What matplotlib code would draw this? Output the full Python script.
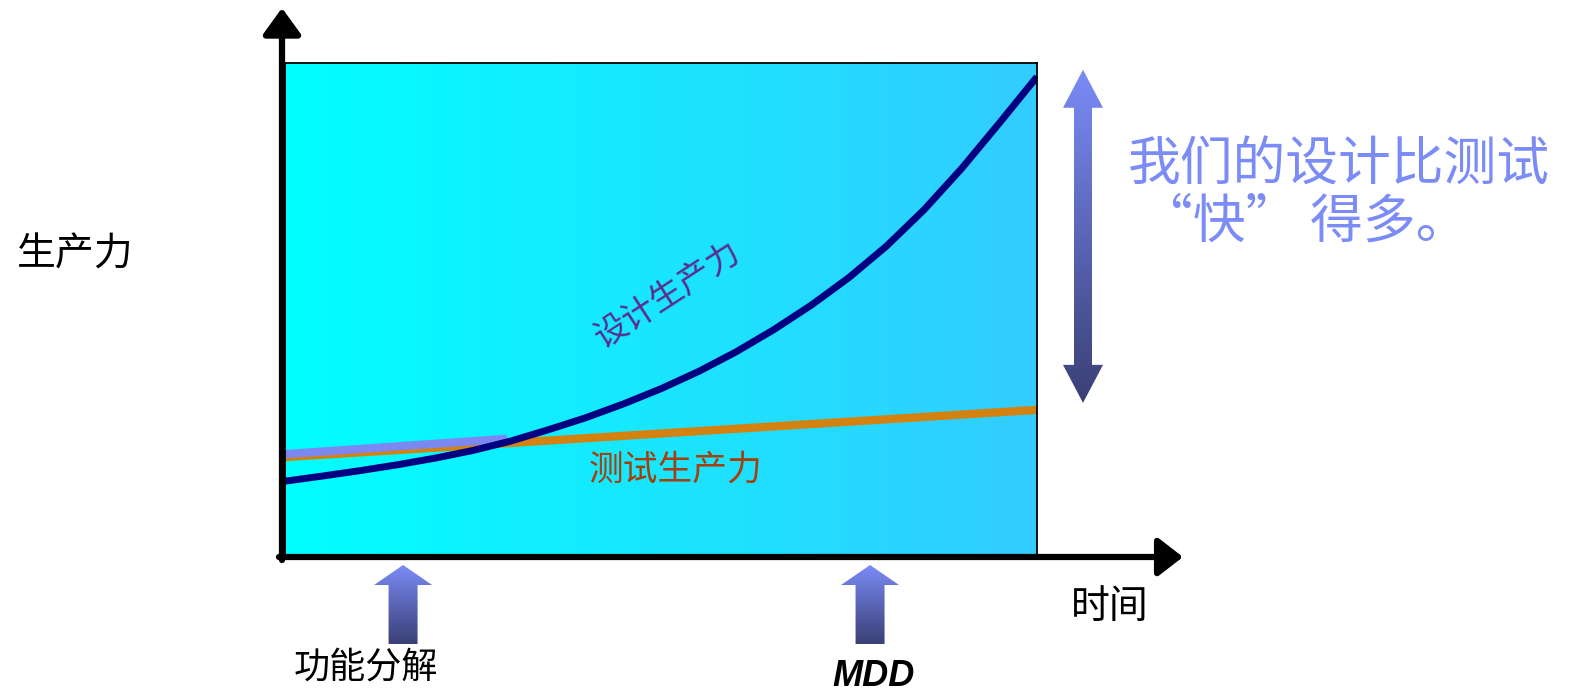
import numpy as np
import matplotlib
matplotlib.use('Agg')
import matplotlib.pyplot as plt
from matplotlib.patches import Polygon
from matplotlib.colors import LinearSegmentedColormap

plt.rcParams['font.family'] = ['Noto Sans CJK SC', 'DejaVu Sans']

# time axis 0-10, productivity 0-10
design_time = [0, 0.5, 1, 1.5, 2, 2.5, 3, 3.5, 4, 4.5, 5,
               5.5, 6, 6.5, 7, 7.5, 8, 8.5, 9, 9.5, 10]
design_prod = [1.50, 1.605, 1.715, 1.835, 1.97, 2.125, 2.315, 2.545, 2.79, 3.07, 3.38,
               3.73, 4.13, 4.58, 5.08, 5.64, 6.28, 7.02, 7.86, 8.78, 9.72]
test_time = [0, 10]
test_prod = [1.99, 2.95]
# highlighted early part of the test line
test_early_time = [0, 2.95]
test_early_prod = [2.05, 2.36]

milestone_names = ['功能分解', 'MDD']
milestone_times = [1.57, 7.78]

W, H = 1574, 692
fig = plt.figure(figsize=(W / 100, H / 100), dpi=100)

# main chart area
ax = fig.add_axes([285 / W, 1 - 555 / H, (1037 - 285) / W, (555 - 63) / H])
bg = LinearSegmentedColormap.from_list('bg', ['#00ffff', '#33ccff'])
ax.imshow(np.linspace(0, 1, 256)[None, :], cmap=bg, extent=[0, 10, 0, 10],
          aspect='auto', zorder=0)
ax.set_xlim(0, 10)
ax.set_ylim(0, 10)
ax.set_xticks([])
ax.set_yticks([])
for s in ax.spines.values():
    s.set_linewidth(1.3)

ax.plot(test_time, test_prod, color='#d4820f', lw=6, solid_capstyle='butt')
ax.plot(test_early_time, test_early_prod, color='#7b88f2', lw=6, solid_capstyle='butt')
ax.plot(design_time, design_prod, color='#000080', lw=5, solid_capstyle='butt',
        solid_joinstyle='round')

ax.text(5.09, 5.28, '设计生产力', rotation=33, color='#5a2d8c', fontsize=24,
        ha='center', va='center')
ax.text(5.19, 1.73, '测试生产力', color='#a3400c', fontsize=25,
        ha='center', va='center')


def to_px(x, y):
    dx, dy = ax.transData.transform((x, y))
    return dx, H - dy


# overlay in pixel coordinates (y down)
ov = fig.add_axes([0, 0, 1, 1], zorder=5)
ov.patch.set_alpha(0)
ov.axis('off')

arrow_cmap = LinearSegmentedColormap.from_list('arr', ['#7b8cf7', '#3a3f74'])


def grad_arrow(cx, y_top, y_bot, head_w, head_h, shaft_w, double=False):
    hw, sw = head_w / 2, shaft_w / 2
    pts = [(cx, y_top), (cx + hw, y_top + head_h), (cx + sw, y_top + head_h)]
    if double:
        pts += [(cx + sw, y_bot - head_h), (cx + hw, y_bot - head_h), (cx, y_bot),
                (cx - hw, y_bot - head_h), (cx - sw, y_bot - head_h)]
    else:
        pts += [(cx + sw, y_bot), (cx - sw, y_bot)]
    pts += [(cx - sw, y_top + head_h), (cx - hw, y_top + head_h)]
    poly = Polygon(pts, closed=True, facecolor='none', edgecolor='none')
    ov.add_patch(poly)
    im = ov.imshow(np.linspace(0, 1, 256)[:, None], cmap=arrow_cmap,
                   extent=[cx - hw, cx + hw, y_bot, y_top], aspect='auto')
    im.set_clip_path(poly)


# axis arrows
ov.annotate('', xy=(282, 8), xytext=(282, 560),
            arrowprops=dict(arrowstyle='-|>,head_length=0.8,head_width=0.58',
                            mutation_scale=20, lw=4.5, color='black',
                            shrinkA=0, shrinkB=0))
ov.annotate('', xy=(1183, 557), xytext=(279, 557),
            arrowprops=dict(arrowstyle='-|>,head_length=0.75,head_width=0.58',
                            mutation_scale=20, lw=4.5, color='black',
                            shrinkA=0, shrinkB=0))

# milestone arrows below the time axis
for name, t in zip(milestone_names, milestone_times):
    px, _ = to_px(t, 0)
    grad_arrow(px, 565, 644, 58, 20, 29)
    if name == 'MDD':
        ov.text(px + 3, 676, name, fontsize=26, fontweight='bold', fontstyle='italic',
                family='Liberation Sans', ha='center', va='center')
    else:
        ov.text(px - 37, 668, name, fontsize=26, ha='center', va='center')

# gap arrow between the two curves at the end
_, top_px = to_px(10, design_prod[-1])
_, bot_px = to_px(10, test_prod[-1])
grad_arrow(1083, top_px - 7, bot_px - 7, 40, 38, 18, double=True)

ov.text(75, 255, '生产力', fontsize=28, ha='center', va='center')
ov.text(1110, 607, '时间', fontsize=28, ha='center', va='center')
ov.text(1128, 165, '我们的设计比测试', fontsize=38, color='#7b8cf7',
        ha='left', va='center')
ov.text(1140, 222, '“快” 得多。', fontsize=38, color='#7b8cf7',
        ha='left', va='center')

ov.set_xlim(0, W)
ov.set_ylim(H, 0)

fig.savefig('out.png', dpi=100)
